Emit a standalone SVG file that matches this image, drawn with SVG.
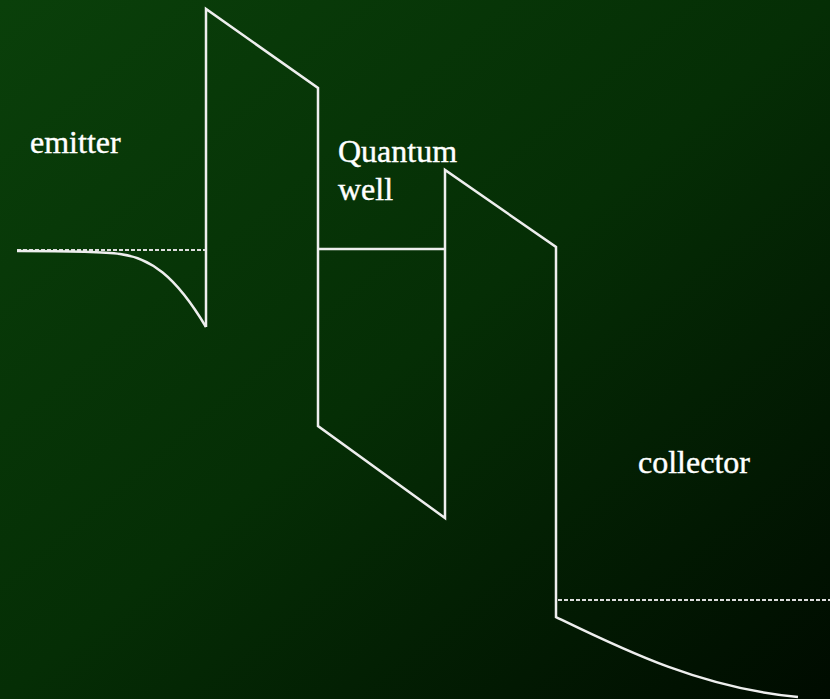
<svg xmlns="http://www.w3.org/2000/svg" width="830" height="699" viewBox="0 0 830 699">
<defs>
<linearGradient id="bg" x1="0" y1="0" x2="1" y2="1">
<stop offset="0" stop-color="#0a400a"/>
<stop offset="0.5" stop-color="#052e05"/>
<stop offset="1" stop-color="#000b00"/>
</linearGradient>
<style>
.ln{fill:none;stroke:#eeeeee;stroke-width:2.5;stroke-linejoin:miter}
.dot{fill:none;stroke:#dddddd;stroke-width:2;stroke-dasharray:4 2}
.lbl{font-family:"Liberation Serif","Times New Roman",serif;font-size:32px;fill:#ffffff;stroke:#ffffff;stroke-width:0.4}
</style>
</defs>
<rect width="830" height="699" fill="url(#bg)"/>
<g id="connectors">
<path class="dot" d="M17 250 H206"/>
<path class="ln" d="M17 251 C60 251 100 251 120 254 C150 258 175 275 206 327"/>
<path class="ln" d="M206 327 V9 L318 88 V426 L445 518 V170 L556 247 V617 C620 648 700 688 798 697"/>
<path class="ln" d="M318 249 H445"/>
<path class="dot" d="M558 600 H830"/>
</g>
<g id="emitter"><text class="lbl" x="30" y="153">emitter</text></g>
<g id="quantum-well"><text class="lbl" x="338" y="162">Quantum</text><text class="lbl" x="338" y="200">well</text></g>
<g id="collector"><text class="lbl" x="638" y="473">collector</text></g>
</svg>
